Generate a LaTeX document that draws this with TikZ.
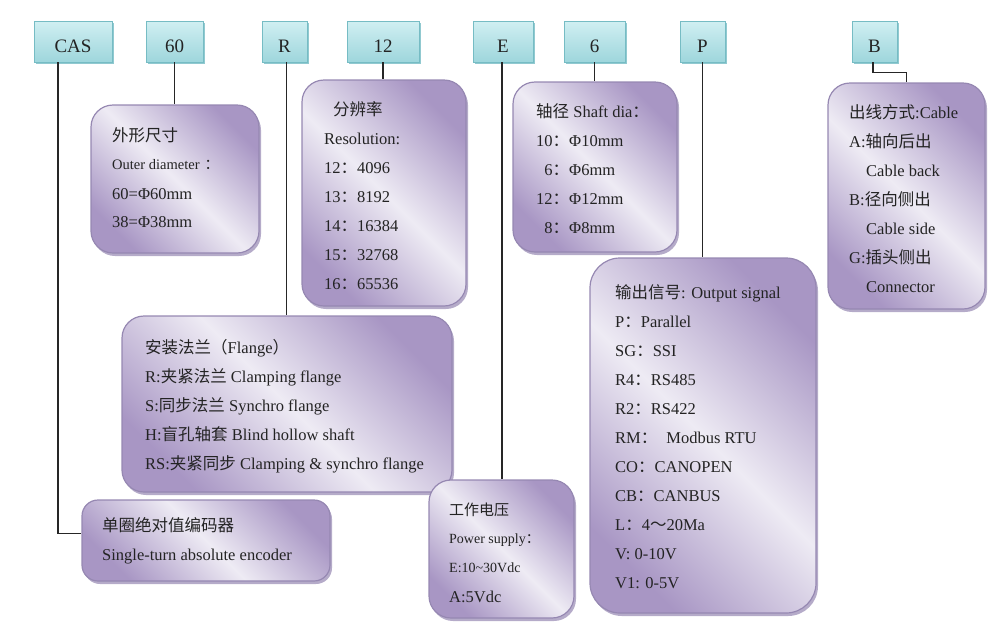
\documentclass[tikz,border=0pt]{standalone}
\usepackage{fontspec}
\setmainfont{Liberation Serif}
\newfontfamily\zhfont{Noto Sans CJK SC}
\newcommand{\zh}[1]{{\zhfont #1}}
\usetikzlibrary{shadows}

\definecolor{lavd}{RGB}{168,150,196}
\definecolor{lavl}{RGB}{238,235,244}
\definecolor{lavedge}{RGB}{150,136,178}
\definecolor{cyl}{RGB}{208,239,242}
\definecolor{cyd}{RGB}{158,214,220}
\definecolor{cyedge}{RGB}{118,188,196}
\definecolor{ink}{RGB}{35,35,35}

\tikzset{
  code/.style={draw=cyedge, line width=.8pt, top color=cyl, bottom color=cyd,
    drop shadow={shadow xshift=2pt, shadow yshift=-2pt, fill=cyedge, opacity=.8},
    anchor=base, inner sep=0pt, text height=31pt, text depth=10pt,
    font=\fontsize{19}{19}\selectfont, text=ink},
  info/.style={draw=lavedge, line width=1.2pt, rounded corners=22pt,
    left color=lavd, right color=lavd, middle color=lavl, shading angle=135,
    drop shadow={shadow xshift=2pt, shadow yshift=-3pt, fill=lavedge, opacity=.7}},
  txt/.style={anchor=base west, inner sep=0pt, text=ink,
    font=\fontsize{16.5}{19}\selectfont},
  wire/.style={line width=1.1pt, black!85}
}

\begin{document}
\begin{tikzpicture}[x=1pt, y=-1pt]
\useasboundingbox (0,0) rectangle (1000,633);

% code fields
\node[code, minimum width=78pt] (cas) at (73,52) {CAS};
\node[code, minimum width=57pt] (d60) at (174.5,52) {60};
\node[code, minimum width=45pt] (flg) at (284.5,52) {R};
\node[code, minimum width=72pt] (res) at (383,52) {12};
\node[code, minimum width=60pt] (pwr) at (503,52) {E};
\node[code, minimum width=61pt] (sft) at (594.5,52) {6};
\node[code, minimum width=45pt] (sig) at (702.5,52) {P};
\node[code, minimum width=45pt] (cbl) at (874.5,52) {B};

% explanation boxes
\node[info, minimum width=168pt, minimum height=148pt] (outerbox) at (175,179) {};
\node[info, minimum width=164pt, minimum height=226pt] (resbox) at (384,193) {};
\node[info, minimum width=164pt, minimum height=170pt] (sftbox) at (595,167) {};
\node[info, minimum width=157pt, minimum height=226pt] (cblbox) at (906.5,196) {};
\node[info, minimum width=330pt, minimum height=176pt] (flgbox) at (287,404) {};
\node[info, minimum width=248pt, minimum height=81pt, rounded corners=16pt] (encbox) at (206,540.5) {};
\node[info, minimum width=145pt, minimum height=138pt] (pwrbox) at (501.5,549) {};
\node[info, minimum width=226pt, minimum height=355pt, rounded corners=30pt] (sigbox) at (703,435.5) {};

% connectors
\draw[wire] ([xshift=-15pt]cas.south) |- ([yshift=7pt]encbox.west);
\draw[wire] (d60.south) -- (d60.south |- outerbox.north);
\draw[wire] ([xshift=2pt]flg.south) -- ([xshift=2pt]flg.south |- flgbox.north);
\draw[wire] (res.south) -- (res.south |- resbox.north);
\draw[wire] ([xshift=-1pt]pwr.south) -- ([xshift=-1pt]pwr.south |- pwrbox.north);
\draw[wire] (sft.south) -- (sft.south |- sftbox.north);
\draw[wire] (sig.south) -- (sig.south |- sigbox.north);
\draw[wire] ([xshift=-1.5pt]cbl.south) -- ++(0,10) -| (cblbox.north);

% outer diameter
\node[txt] (outer0) at (112,141) {\zh{外形尺寸}};
\node[txt, font=\fontsize{14.5}{17}\selectfont] (outer1) at (112,169) {Outer diameter\hspace{5pt}\zh{：}};
\node[txt] (outer2) at (112,199) {60=Φ60mm};
\node[txt] (outer3) at (112,227) {38=Φ38mm};

% resolution
\node[txt] (res0) at (333,115) {\zh{分辨率}};
\foreach \t [count=\i] in {{Resolution:}, {12\zh{：}4096}, {13\zh{：}8192},
    {14\zh{：}16384}, {15\zh{：}32768}, {16\zh{：}65536}}
  \node[txt] (res\i) at (324,115+29*\i) {\t};

% shaft
\foreach \t [count=\i from 0] in {{\zh{轴径} Shaft dia\zh{：}}, {10\zh{：}Φ10mm},
    {\phantom{1}6\zh{：}Φ6mm}, {12\zh{：}Φ12mm}, {\phantom{1}8\zh{：}Φ8mm}}
  \node[txt] (sft\i) at (536,117+29*\i) {\t};

% cable
\foreach \t [count=\i from 0] in {{\zh{出线方式}:Cable}, {A:\zh{轴向后出}},
    {\hspace{17pt}Cable back}, {B:\zh{径向侧出}}, {\hspace{17pt}Cable side},
    {G:\zh{插头侧出}}, {\hspace{17pt}Connector}}
  \node[txt] (cbl\i) at (849,118+29*\i) {\t};

% flange
\foreach \t [count=\i from 0] in {{\zh{安装法兰（}Flange\zh{）}},
    {R:\zh{夹紧法兰} Clamping flange}, {S:\zh{同步法兰} Synchro flange},
    {H:\zh{盲孔轴套} Blind hollow shaft}, {RS:\zh{夹紧同步} Clamping \& synchro flange}}
  \node[txt] (flg\i) at (145,353+29*\i) {\t};

% encoder
\node[txt] (enc0) at (102,531) {\zh{单圈绝对值编码器}};
\node[txt] (enc1) at (102,560) {Single-turn absolute encoder};

% power supply
\node[txt, font=\fontsize{15}{17}\selectfont] (pwr0) at (449,515) {\zh{工作电压}};
\node[txt, font=\fontsize{14}{16}\selectfont] (pwr1) at (449,543) {Power supply\zh{：}};
\node[txt, font=\fontsize{14}{16}\selectfont] (pwr2) at (449,572) {E:10\textasciitilde 30Vdc};
\node[txt] (pwr3) at (449,602) {A:5Vdc};

% output signal
\foreach \t [count=\i from 0] in {{\zh{输出信号}: Output signal}, {P\zh{：}Parallel},
    {SG\zh{：}SSI}, {R4\zh{：}RS485}, {R2\zh{：}RS422}, {RM\zh{：}\hspace{9pt}Modbus RTU},
    {CO\zh{：}CANOPEN}, {CB\zh{：}CANBUS}, {L\zh{：}4\zh{～}20Ma}, {V: 0-10V}, {V1: 0-5V}}
  \node[txt] (sig\i) at (615,298+29*\i) {\t};
\end{tikzpicture}
\end{document}
